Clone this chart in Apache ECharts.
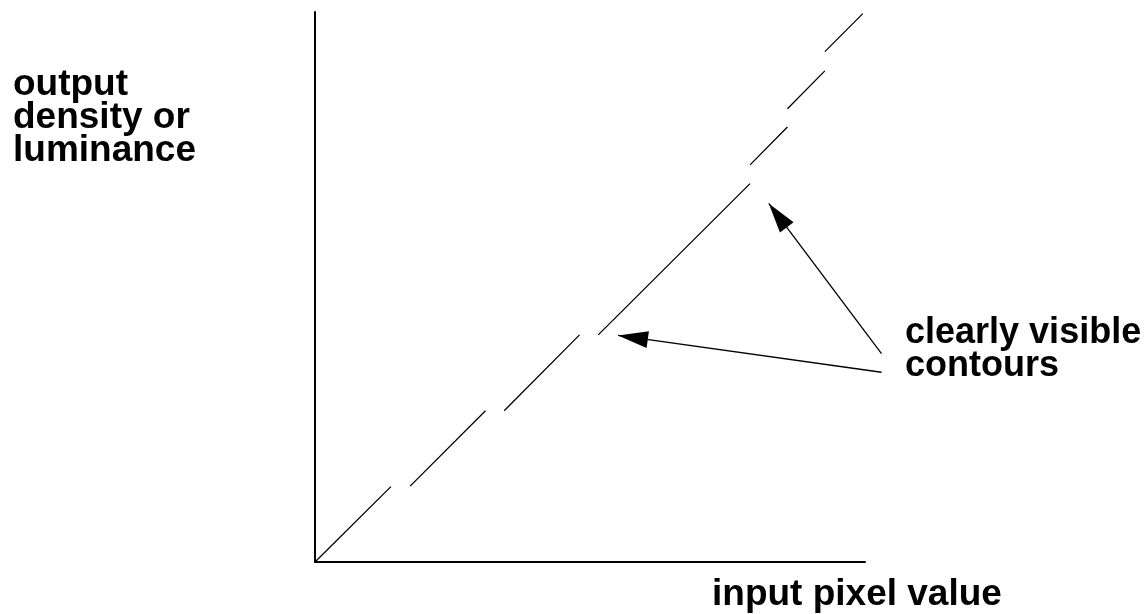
<!DOCTYPE html>
<html>
<head>
    <meta charset="utf-8">
    <title>contours</title>
    <script src="https://cdn.jsdelivr.net/npm/echarts@6/dist/echarts.min.js"></script>
    <style>
        html, body { margin: 0; padding: 0; background: #fff; }
    </style>
</head>
<body>
<div id="main" style="width: 1148px;height:614px;"></div>
<script type="text/javascript">
    // pieces of the transfer curve (input, output), with the jumps between them
    var segStart = [[0, 0], [17.3, 13.8], [34.4, 27.5], [51.5, 41.3], [79.1, 72.2], [85.9, 82.4], [92.7, 92.8]];
    var segEnd = [[13.8, 13.7], [31.0, 27.5], [48.1, 41.3], [79.1, 68.8], [85.9, 79.1], [92.7, 89.3], [99.6, 99.7]];

    // arrows from the label to the two contours
    var arrowFrom = [[103.0, 34.5], [103.0, 37.9]];
    var arrowTo = [[55.1, 41.2], [82.5, 65.2]];

    var yLabel = ['output', 'density or', 'luminance'];
    var noteLabel = ['clearly visible', 'contours'];
    var xLabel = 'input pixel value';

    var myChart = echarts.init(document.getElementById('main'));

    var curve = [];
    for (var i = 0; i < segStart.length; i++) {
        if (i > 0) curve.push([segStart[i][0], '-']);
        curve.push(segStart[i]);
        curve.push(segEnd[i]);
    }

    var arrows = [];
    for (var j = 0; j < arrowFrom.length; j++) {
        arrows.push({ coords: [arrowFrom[j], arrowTo[j]] });
    }

    // filled head, tip at the centre of a square box so it lands on the end point
    var head = 'path://M0,0 L8.5,30 L-8.5,30 Z M0,-30 L0.01,-30 Z M-30,0 L-29.99,0 Z M30,0 L29.99,0 Z';

    var font = 'bold 37px "Liberation Sans", Arial, sans-serif';

    var option = {
        animation: false,
        backgroundColor: '#fff',
        grid: { left: 315, top: 12, width: 550, height: 550 },
        xAxis: {
            type: 'value', min: 0, max: 100,
            axisLine: { lineStyle: { color: '#000', width: 2 } },
            axisTick: { show: false }, axisLabel: { show: false }, splitLine: { show: false }
        },
        yAxis: {
            type: 'value', min: 0, max: 100,
            axisLine: { lineStyle: { color: '#000', width: 2 } },
            axisTick: { show: false }, axisLabel: { show: false }, splitLine: { show: false }
        },
        series: [{
            type: 'line',
            data: curve,
            showSymbol: false,
            connectNulls: false,
            silent: true,
            lineStyle: { color: '#000', width: 1.3 }
        }, {
            type: 'lines',
            coordinateSystem: 'cartesian2d',
            clip: false,
            silent: true,
            symbol: ['none', head],
            symbolSize: [0, 60],
            lineStyle: { color: '#000', width: 1.3, opacity: 1 },
            data: arrows
        }],
        graphic: [{
            type: 'text', x: 13, y: 68,
            style: { text: yLabel.join('\n'), font: font, fill: '#000', lineHeight: 33, verticalAlign: 'top' }
        }, {
            type: 'text', x: 905, y: 317,
            style: { text: noteLabel.join('\n'), font: 'bold 36px "Liberation Sans", Arial, sans-serif', fill: '#000', lineHeight: 33, verticalAlign: 'top' }
        }, {
            type: 'text', x: 712, y: 578,
            style: { text: xLabel, font: font, fill: '#000', lineHeight: 33, verticalAlign: 'top' }
        }]
    };

    myChart.setOption(option);
</script>
</body>
</html>
